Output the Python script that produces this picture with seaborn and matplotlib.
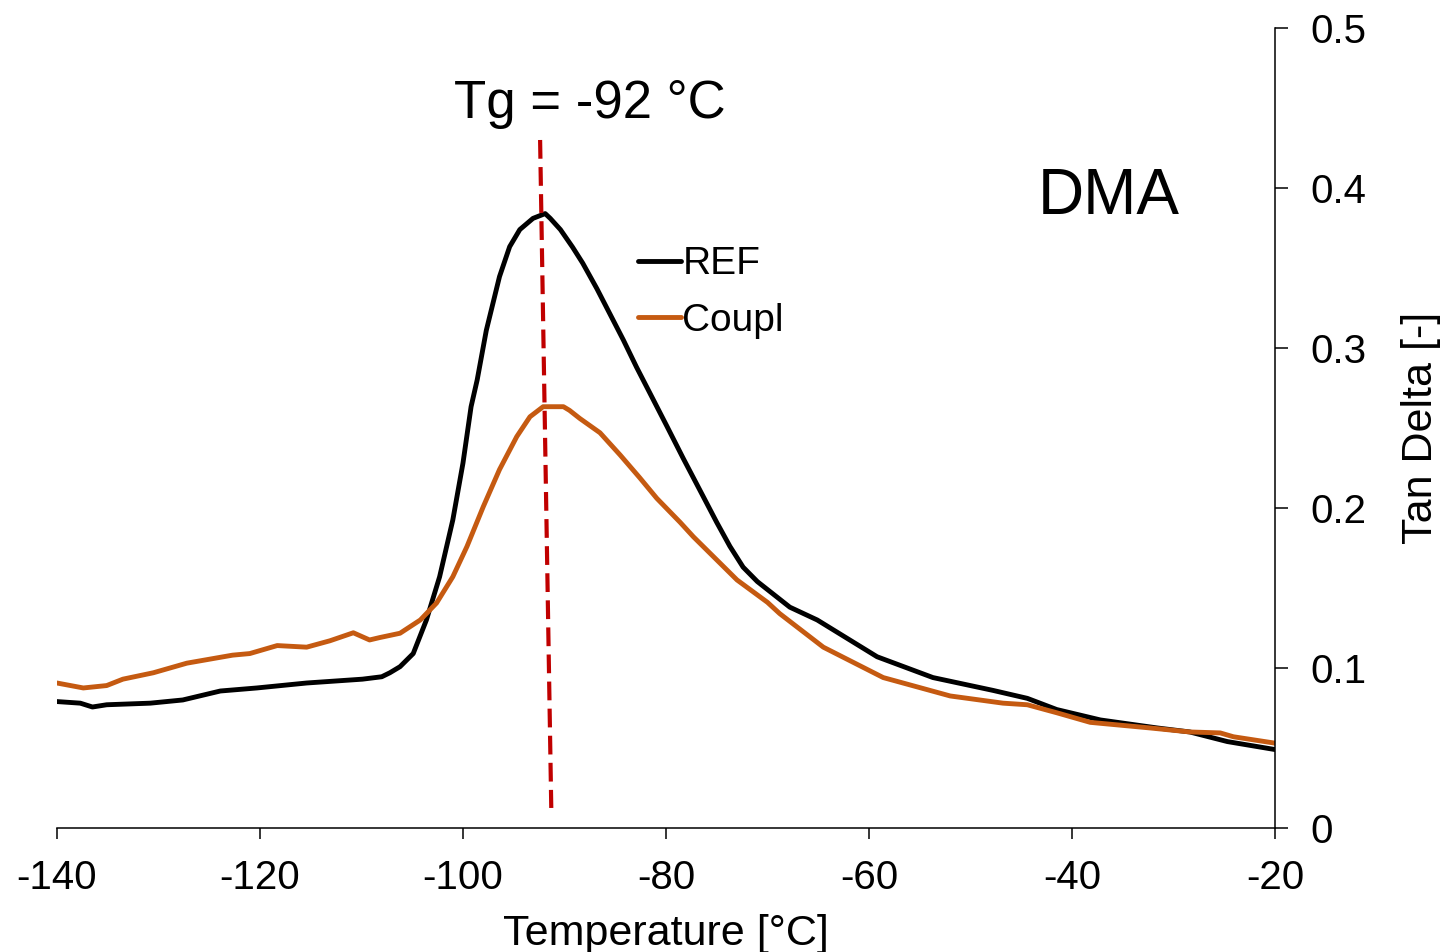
import pandas as pd
import seaborn as sns
import matplotlib.pyplot as plt

# values
temp_ref = [-140, -137.7, -136.5, -135.1, -130.8, -127.6, -123.9, -120.3, -115.4, -109.9,
            -108.0, -107.2, -106.2, -104.9, -103.6, -102.3, -101.0, -100.0, -99.2, -98.6,
            -97.7, -96.4, -95.4, -94.4, -93.1, -91.9, -91.4, -90.4, -89.2, -88.2,
            -86.8, -85.5, -84.2, -82.9, -81.6, -79.9, -78.3, -76.4, -75.0, -73.7,
            -72.4, -71.0, -70.0, -67.8, -65.1, -59.2, -53.7, -47.8, -44.4, -41.5,
            -37.2, -31.6, -28.4, -24.7, -20.0]
tan_ref = [0.079, 0.078, 0.0756, 0.077, 0.078, 0.080, 0.0856, 0.0875, 0.0906, 0.093,
           0.0945, 0.097, 0.1008, 0.109, 0.130, 0.157, 0.1925, 0.228, 0.2633, 0.280,
           0.311, 0.3446, 0.3633, 0.374, 0.381, 0.384, 0.381, 0.374, 0.363, 0.353,
           0.337, 0.321, 0.305, 0.288, 0.272, 0.251, 0.231, 0.208, 0.191, 0.176,
           0.163, 0.154, 0.149, 0.138, 0.130, 0.107, 0.094, 0.086, 0.081, 0.074,
           0.0675, 0.0625, 0.060, 0.054, 0.049]

temp_coupl = [-140, -137.4, -135.1, -133.5, -130.5, -127.2, -122.7, -121, -118.3, -115.4,
              -113.1, -110.8, -109.2, -108.2, -106.2, -104.2, -102.6, -101.0, -99.6, -98.0,
              -96.4, -94.7, -93.4, -92.1, -90.1, -89.5, -88.5, -86.5, -84.5, -82.6,
              -80.9, -78.6, -77.3, -73.0, -70.0, -68.8, -64.5, -58.6, -52.0, -46.8,
              -44.4, -41.5, -38.2, -32.3, -28.4, -25.4, -24.1, -20.0]
tan_coupl = [0.0906, 0.0875, 0.089, 0.093, 0.097, 0.103, 0.108, 0.109, 0.114, 0.113,
             0.117, 0.122, 0.1175, 0.119, 0.1217, 0.130, 0.1406, 0.157, 0.176, 0.2008,
             0.224, 0.2446, 0.257, 0.2633, 0.2633, 0.261, 0.256, 0.247, 0.233, 0.219,
             0.206, 0.191, 0.182, 0.155, 0.141, 0.134, 0.113, 0.094, 0.0825, 0.078,
             0.077, 0.072, 0.066, 0.0625, 0.060, 0.0594, 0.057, 0.053]

# Tg marker line (slightly tilted in the original)
tg_x = [-92.4, -91.3]
tg_y = [0.43, 0.0125]

x_ticks = [-140, -120, -100, -80, -60, -40, -20]
y_ticks = [0, 0.1, 0.2, 0.3, 0.4, 0.5]
y_ticklabels = ["0", "0.1", "0.2", "0.3", "0.4", "0.5"]

sns.set_style("white")
plt.rcParams['font.family'] = ['Liberation Sans', 'DejaVu Sans']
plt.rcParams['text.color'] = 'black'
plt.rcParams['axes.labelcolor'] = 'black'

df = pd.concat([
    pd.DataFrame({"Temperature": temp_ref, "Tan Delta": tan_ref, "Sample": "REF"}),
    pd.DataFrame({"Temperature": temp_coupl, "Tan Delta": tan_coupl, "Sample": "Coupl"}),
])
colors = {"REF": "#000000", "Coupl": "#C55A11"}

fig = plt.figure(figsize=(14.56, 9.52), dpi=100)
ax = fig.add_axes([0.0391, 0.1303, 0.8366, 0.8403])

sns.lineplot(data=df, x="Temperature", y="Tan Delta", hue="Sample",
             palette=colors, estimator=None, sort=False, linewidth=3.5,
             ax=ax, legend=False)
for ln in ax.lines:
    ln.set_solid_joinstyle("round")
    ln.set_solid_capstyle("round")

ax.plot(tg_x, tg_y, color="#C00000", linewidth=3, dashes=(4.5, 2))

ax.set_xlim(-140, -20)
ax.set_ylim(0, 0.5)
ax.set_xticks(x_ticks)
ax.set_xticklabels([str(v) for v in x_ticks])
ax.set_yticks(y_ticks)
ax.set_yticklabels(y_ticklabels)

ax.yaxis.tick_right()
ax.yaxis.set_label_position("right")
for side in ["left", "top"]:
    ax.spines[side].set_visible(False)
for side in ["right", "bottom"]:
    ax.spines[side].set_color("black")
    ax.spines[side].set_linewidth(1.1)

ax.tick_params(axis="x", direction="out", length=8, width=1.1, pad=14.5,
               labelsize=29, colors="black", bottom=True)
ax.tick_params(axis="y", direction="out", length=9.5, width=1.1, pad=16,
               labelsize=29, colors="black", right=True, left=False)

ax.set_xlabel("Temperature [°C]", fontsize=31, labelpad=12)
ax.set_ylabel("Tan Delta [-]", fontsize=31, labelpad=25, rotation=90)

ax.text(-87.5, 0.444, "Tg = -92 °C", fontsize=38, ha="center", va="baseline")
ax.text(-36.4, 0.384, "DMA", fontsize=46, ha="center", va="baseline")

handles = [plt.Line2D([], [], color=colors["REF"], linewidth=3.5),
           plt.Line2D([], [], color=colors["Coupl"], linewidth=3.5)]
ax.legend(handles, ["REF", "Coupl"], loc="center left",
          bbox_to_anchor=(0.438, 0.6927), bbox_transform=fig.transFigure,
          frameon=False, fontsize=28, handlelength=1.1, handletextpad=0.05,
          labelspacing=0.52, borderpad=0, borderaxespad=0)

fig.savefig("out.png", dpi=100)
